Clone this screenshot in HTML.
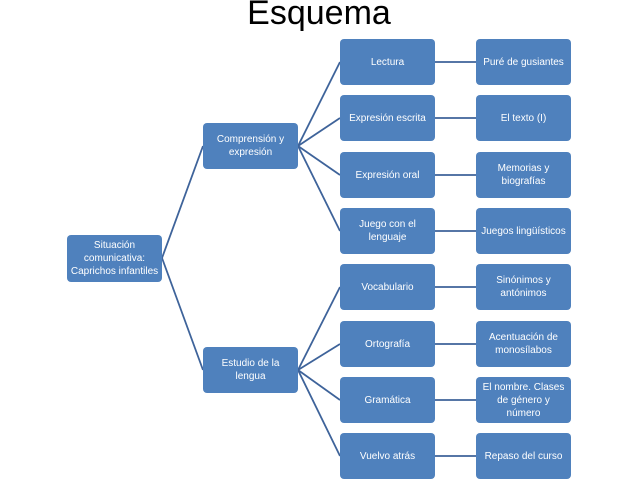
<!DOCTYPE html>
<html><head><meta charset="utf-8"><style>
body{margin:0;width:638px;height:479px;background:#fff;position:relative;overflow:hidden;font-family:"Liberation Sans",sans-serif}
.t{position:absolute;left:0;width:638px;top:-6px;text-align:center;font-size:34px;color:#000}
.b{position:absolute;background:#4f81bd;border-radius:4px;color:#fff;font-size:10px;line-height:13px;display:flex;align-items:center;justify-content:center;text-align:center;box-sizing:border-box;padding:0 3px}
svg{position:absolute;left:0;top:0}
</style></head><body>
<div class="t">Esquema</div>
<svg width="638" height="479"><g stroke="#3e639a" stroke-width="1.8" fill="none">
<line x1="162" y1="258" x2="203" y2="146"/><line x1="162" y1="258" x2="203" y2="370"/>
<line x1="298" y1="146" x2="340" y2="62"/><line x1="298" y1="146" x2="340" y2="118"/><line x1="298" y1="146" x2="340" y2="175"/><line x1="298" y1="146" x2="340" y2="231"/>
<line x1="298" y1="370" x2="340" y2="287"/><line x1="298" y1="370" x2="340" y2="344"/><line x1="298" y1="370" x2="340" y2="400"/><line x1="298" y1="370" x2="340" y2="456"/>
<line x1="435" y1="62" x2="476" y2="62"/><line x1="435" y1="118" x2="476" y2="118"/><line x1="435" y1="175" x2="476" y2="175"/><line x1="435" y1="231" x2="476" y2="231"/>
<line x1="435" y1="287" x2="476" y2="287"/><line x1="435" y1="344" x2="476" y2="344"/><line x1="435" y1="400" x2="476" y2="400"/><line x1="435" y1="456" x2="476" y2="456"/>
</g></svg>
<div class="b" style="left:67px;top:235px;width:95px;height:47px">Situación comunicativa: Caprichos infantiles</div>
<div class="b" style="left:203px;top:123px;width:95px;height:46px">Comprensión y expresión</div>
<div class="b" style="left:203px;top:347px;width:95px;height:46px">Estudio de la lengua</div>
<div class="b" style="left:340px;top:39px;width:95px;height:46px">Lectura</div>
<div class="b" style="left:340px;top:95px;width:95px;height:46px">Expresión escrita</div>
<div class="b" style="left:340px;top:152px;width:95px;height:46px">Expresión oral</div>
<div class="b" style="left:340px;top:208px;width:95px;height:46px">Juego con el lenguaje</div>
<div class="b" style="left:340px;top:264px;width:95px;height:46px">Vocabulario</div>
<div class="b" style="left:340px;top:321px;width:95px;height:46px">Ortografía</div>
<div class="b" style="left:340px;top:377px;width:95px;height:46px">Gramática</div>
<div class="b" style="left:340px;top:433px;width:95px;height:46px">Vuelvo atrás</div>
<div class="b" style="left:476px;top:39px;width:95px;height:46px">Puré de gusiantes</div>
<div class="b" style="left:476px;top:95px;width:95px;height:46px">El texto (I)</div>
<div class="b" style="left:476px;top:152px;width:95px;height:46px">Memorias y biografías</div>
<div class="b" style="left:476px;top:208px;width:95px;height:46px">Juegos lingüísticos</div>
<div class="b" style="left:476px;top:264px;width:95px;height:46px">Sinónimos y antónimos</div>
<div class="b" style="left:476px;top:321px;width:95px;height:46px">Acentuación de monosílabos</div>
<div class="b" style="left:476px;top:377px;width:95px;height:46px">El nombre. Clases de género y número</div>
<div class="b" style="left:476px;top:433px;width:95px;height:46px">Repaso del curso</div>
</body></html>
